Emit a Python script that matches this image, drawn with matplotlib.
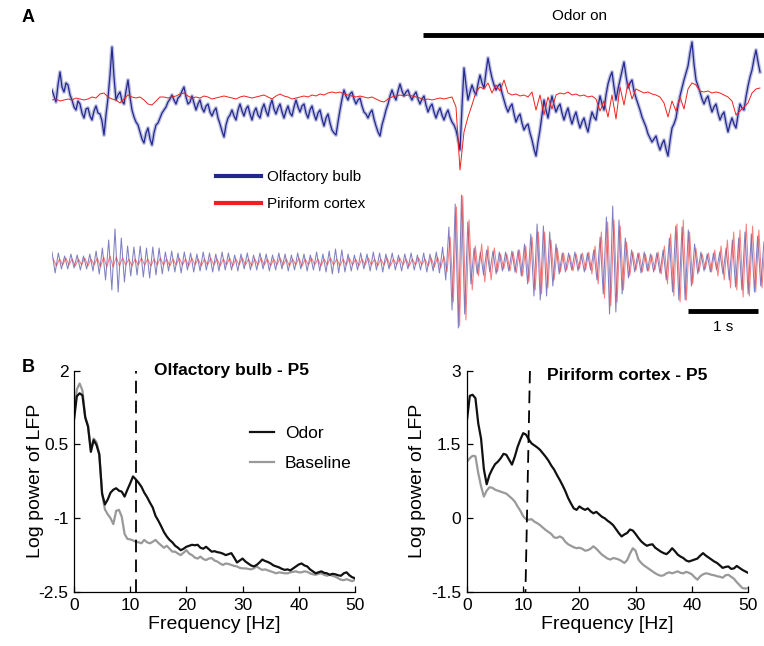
import numpy as np
import matplotlib
matplotlib.use('Agg')
import matplotlib.pyplot as plt
from matplotlib.lines import Line2D

plt.rcParams['font.family'] = ['Liberation Sans', 'DejaVu Sans']

# ---------------- Panel A data (arbitrary units, up = positive) ----------------
raw_dt = 4 / 70.0          # s between raw samples
filt_dt = 3.15 / 70.0      # s between filtered extrema (half cycles)
odor_on = 5.3              # s
trace_end = 712 / 70.0     # s

# olfactory bulb raw LFP: samples at t = k*raw_dt ...
bulb_raw_a = [7, -5, 25, 5, 12, -3, -13, -7, -21, -11, -23, -9, -17, -38, -1, 50, -3, 5, -7, 17,
              -13, -25, -35, -46, -31, -48, -28, -21, -13, -5, 2, -7, 1, 10, -7, 1, -13, -3, -15, -7,
              -19, -11, -27, -40, -21, -13, -23, -7, -19, -9, -23, -11, -21, -7, -19, -3, -17, -7, -21, -9,
              -19, -3, -15, -7, -21, -9, -23, -13, -29, -17, -33, -38, -13, 7, -3, 5, -7, -1, -15, -21,
              -13, -29, -39, -21, -7, 7, -3, 13, 1, 7, -3, 5, -7, 1, -15, -7, -21, -11, -23, -13,
              -25, -33, -53, 29, -3, 12, 2, 22, 9, 39, 19, 7, 13, -3, -15, -7, -25, -17, -33, -27,
              -43, -59, -33, -3, -21, 1, -15, -7, -23, -11, -27, -15, -31, -21, -35, -15, -23, 1, -13, 13,
              25, -3, 17, 35, 9, 17, -1, -13, -25, -37, -45, -39, -53, -43, -59, -31, -21, 1, 17, 31,
              55, 17, 5, -7, 1, -15, -7, -23, -15, -35, -21, -31, -7, -13, 11, 27, 47, 25]
# ... and at t = (k + 0.5)*raw_dt
bulb_raw_b = [1, 12, 10, 14, 2, -10, -4, -16, -12, -19, -14, -16, -24, -18, 22, 20, 2, -4, 6, 0,
              -20, -28, -42, -36, -42, -36, -26, -16, -10, -2, -3, -1, 6, 0, -5, -6, -7, -11, -9, -15,
              -14, -21, -34, -28, -18, -19, -13, -14, -12, -17, -15, -18, -12, -14, -9, -12, -11, -15, -14, -16,
              -10, -10, -9, -16, -13, -17, -16, -22, -21, -26, -36, -25, -2, 1, 3, -2, -3, -9, -17, -16,
              -22, -35, -28, -13, 1, 1, 6, 6, 5, 1, 2, -2, -2, -8, -10, -15, -15, -18, -17, -20,
              -28, -42, -10, 12, 5, 6, 13, 14, 25, 28, 12, 11, 4, -10, -10, -17, -20, -26, -29, -36,
              -52, -45, -18, -13, -9, -8, -10, -16, -16, -20, -20, -24, -25, -29, -24, -20, -10, -7, 2, 20,
              10, 8, 26, 21, 14, 6, -7, -20, -30, -41, -42, -47, -47, -52, -44, -27, -9, 9, 24, 44,
              33, 11, -2, -2, -8, -10, -16, -18, -26, -27, -27, -18, -11, 0, 20, 38, 35]

piri_raw = [-3, -2, -4, -3, -2, -3, -1, -2, -3, -2, 0, -1, 3, 4, 0, -2, -3, -6, -2, 2,
            0, -1, 0, -3, -7, -8, -4, 0, 0, -1, 0, 1, 3, 4, 1, -1, 0, -1, 1, 0,
            -2, -1, 0, 1, 0, -1, -2, 0, 1, 0, -1, 0, 1, 2, 0, -2, 1, 3, 1, 0,
            -2, -1, 0, 1, 0, 2, 1, 3, 2, 4, 5, 4, 5, 3, 2, 1, 0, 1, 0, -1,
            0, -2, -4, -5, -2, 0, 1, 2, 1, 2, 1, 0, -1, -3, -2, -3, -2, -1, -2, -1,
            0, -10, -73, -35, -20, -8, 5, 10, 8, 14, 4, 12, 6, 17, 4, 2, 3, 1, 2, 0,
            5, -13, 2, -18, 0, -12, 2, 4, 3, 5, 2, 3, 1, 2, 0, 1, -2, -14, -4, -20,
            2, -22, 10, -8, 14, -2, 8, 6, 4, 5, 3, 2, 0, -6, -20, -4, -14, 0, -12, 8,
            14, 12, 6, 5, 6, 4, 5, 4, 2, 0, -4, -18, -14, -10, -6, 4, 8, 9]

bulb_filt = [10, -11, 9, -7, 6, -7, 8, -6, 7, -8, 6, -7, 8, -9,
             11, -12, 14, -18, 22, -28, 33, -30, 24, -20,
             16, -14, 15, -13, 16, -15, 14, -16, 15, -13, 14, -12,
             10, -9, 11, -10, 9, -11, 10, -8, 9, -10, 8, -9, 10, -8, 9, -10, 8, -9, 10, -8, 9,
             -8, 7, -9, 8, -7, 9, -8, 7, -8, 9, -7, 8, -9, 7, -8, 9, -7, 8, -9,
             7, -8, 9, -7, 8, -9, 7, -8, 10, -9, 8, -10, 11,
             -12, 13, -11, 12, -10,
             8, -9, 7, -8, 9, -7, 8, -9, 10, -8, 9, -10, 8, -7, 9, -8, 7, -9, 8, -7, 9, -8, 7,
             -8, 9, -10, 8, -9, 10, -11,
             15, -18, 35, -48, 58, -66, 67, -52, 40, -22,
             14, -12, 10, -13, 12, -10, 11, -12, 10, -9,
             10, -9, 11, -10, 12, -14, 18, -22, 28, -34, 38, -38, 36, -34, 30, -24, 18, -12,
             9, -10, 9, -8, 10, -9, 8, -10, 9, -8, 12,
             -18, 25, -32, 45, -52, 56, -50, 42, -32, 24, -16,
             12, -10, 9, -11, 10, -9, 8, -10, 9, -11, 12,
             -18, 24, -30, 36, -38, 35, -38, 32, -24, 18, -12,
             10, -9, 8, -10, 9, -8, 10, -12, 14,
             -18, 22, -25, 24, -28,
             30, -32, 28, -30, 26, -24, 20]

piri_filt = [3, -4, 3, -3, 4, -3, 3, -4, 3, -3, 4, -4, 3, -3, 4, -5, 5, -5, 6, -5, 5, -4, 4, -3,
             3, -4, 3, -3, 4, -3, 3, -4, 3, -3, 4, -3,
             3, -4, 3, -3, 4, -3, 3, -4, 4, -3, 3, -4, 3, -3, 4, -3, 3, -4, 3, -3, 4, -4, 3, -3,
             4, -3, 3, -4, 3, -3,
             4, -3, 3, -4, 3, -3, 4, -3, 3, -4, 3, -3, 4, -4, 3, -3, 4, -3, 3, -4, 3, -3, 4, -3,
             3, -4, 3, -3, 4, -3,
             3, -4, 3, -3, 4, -3, 3, -4, 3, -3, 4, -4, 3, -3, 4, -3, 3, -4, 3, -3, 4, -3, 3, -4,
             4, -5, 5, -6,
             6, -10, 25, -40, 55, -64, 66, -58, 42, -28,
             16, -14, 18, -20, 16, -18, 14, -10, 8, -7,
             8, -9, 10, -11, 12, -14, 16, -20, 25, -28, 30, -32, 30, -26, 22, -18, 14, -10,
             9, -8, 7, -9, 8, -7, 9, -8, 10, -12, 16,
             -22, 30, -36, 40, -44, 42, -40, 36, -28, 20, -14,
             10, -8, 9, -10, 8, -9, 7, -8, 10, -12, 16,
             -22, 28, -34, 38, -40, 42, -38, 30, -22, 14, -10,
             8, -7, 9, -10, 12, -14, 16, -18, 22,
             -26, 30, -28, 32, -35,
             38, -34, 36, -30, 32, -26, 22]

# ---------------- Panel B data (log power) ----------------
freq = np.arange(0, 50.01, 0.5)

ob_odor = [1.0, 1.48, 1.54, 1.50, 1.05, 0.86, 0.35, 0.59, 0.49, 0.30,
           -0.5, -0.72, -0.62, -0.48, -0.42, -0.39, -0.44, -0.46, -0.56, -0.42,
           -0.29, -0.15, -0.21, -0.28, -0.36, -0.48, -0.57, -0.68, -0.78, -0.95,
           -1.05, -1.16, -1.28, -1.37, -1.44, -1.49, -1.56, -1.60, -1.65, -1.62,
           -1.58, -1.56, -1.54, -1.55, -1.54, -1.60, -1.62, -1.58, -1.63, -1.68,
           -1.67, -1.69, -1.70, -1.72, -1.75, -1.73, -1.71, -1.80, -1.90, -1.86,
           -1.82, -1.88, -1.92, -1.96, -1.98, -1.95, -1.90, -1.84, -1.87, -1.89,
           -1.92, -1.96, -1.98, -2.0, -2.03, -2.05, -2.04, -2.06, -2.02, -1.98,
           -1.94, -1.92, -1.96, -1.98, -2.04, -2.08, -2.12, -2.10, -2.08, -2.11,
           -2.12, -2.15, -2.13, -2.14, -2.16, -2.17, -2.12, -2.10, -2.16, -2.20, -2.22]

ob_base = [1.07, 1.62, 1.74, 1.60, 1.05, 0.89, 0.40, 0.62, 0.55, 0.30,
           -0.5, -0.82, -0.92, -1.0, -1.12, -0.85, -0.83, -0.97, -1.32, -1.42,
           -1.43, -1.45, -1.48, -1.49, -1.51, -1.44, -1.49, -1.51, -1.48, -1.44,
           -1.50, -1.55, -1.60, -1.56, -1.62, -1.68, -1.68, -1.72, -1.75, -1.70,
           -1.65, -1.72, -1.75, -1.80, -1.82, -1.78, -1.83, -1.85, -1.82, -1.81,
           -1.86, -1.88, -1.92, -1.95, -1.92, -1.93, -1.95, -1.97, -1.98, -2.01,
           -2.02, -2.02, -2.03, -2.04, -2.02, -1.98, -2.02, -2.05, -2.04, -2.06,
           -2.08, -2.10, -2.12, -2.10, -2.11, -2.12, -2.12, -2.10, -2.09, -2.08,
           -2.10, -2.10, -2.08, -2.09, -2.12, -2.14, -2.15, -2.13, -2.12, -2.15,
           -2.17, -2.15, -2.17, -2.19, -2.22, -2.25, -2.26, -2.24, -2.26, -2.28, -2.25]

pc_odor = [2.0, 2.49, 2.51, 2.44, 1.93, 1.62, 1.0, 0.69, 0.88, 1.0,
           1.10, 1.15, 1.22, 1.31, 1.29, 1.19, 1.09, 1.25, 1.45, 1.60,
           1.73, 1.70, 1.60, 1.52, 1.48, 1.44, 1.39, 1.32, 1.25, 1.17,
           1.07, 0.99, 0.88, 0.78, 0.67, 0.55, 0.41, 0.30, 0.20, 0.17,
           0.24, 0.20, 0.17, 0.20, 0.14, 0.10, 0.13, 0.08, 0.03, 0.0,
           -0.05, -0.09, -0.14, -0.22, -0.30, -0.37, -0.33, -0.30, -0.23, -0.25,
           -0.32, -0.40, -0.47, -0.52, -0.56, -0.54, -0.53, -0.60, -0.64, -0.68,
           -0.71, -0.73, -0.68, -0.61, -0.67, -0.74, -0.78, -0.81, -0.86, -0.88,
           -0.86, -0.84, -0.82, -0.76, -0.71, -0.76, -0.80, -0.84, -0.88, -0.91,
           -0.96, -1.01, -0.99, -0.98, -1.03, -1.02, -0.97, -1.01, -1.05, -1.08, -1.11]

pc_base = [1.15, 1.22, 1.27, 1.26, 0.92, 0.65, 0.44, 0.56, 0.63, 0.62,
           0.58, 0.56, 0.54, 0.52, 0.50, 0.45, 0.40, 0.34, 0.24, 0.15,
           0.04, -0.02, -0.03, -0.02, -0.07, -0.10, -0.14, -0.19, -0.24, -0.28,
           -0.32, -0.39, -0.40, -0.37, -0.40, -0.48, -0.53, -0.56, -0.59, -0.61,
           -0.60, -0.62, -0.66, -0.65, -0.62, -0.57, -0.62, -0.68, -0.74, -0.78,
           -0.82, -0.84, -0.81, -0.82, -0.84, -0.87, -0.91, -0.85, -0.72, -0.61,
           -0.66, -0.84, -0.91, -0.96, -1.0, -1.04, -1.08, -1.12, -1.15, -1.17,
           -1.16, -1.12, -1.10, -1.12, -1.10, -1.08, -1.11, -1.12, -1.09, -1.11,
           -1.14, -1.20, -1.25, -1.18, -1.14, -1.12, -1.13, -1.15, -1.16, -1.18,
           -1.19, -1.21, -1.16, -1.15, -1.19, -1.23, -1.30, -1.36, -1.42, -1.43, -1.42]

theta_peak_ob = 11.0
theta_peak_pc = (11.2, 10.4)

# ---------------- Figure ----------------
W, H = 764, 646
fig = plt.figure(figsize=(W / 100, H / 100), dpi=100)

blue = '#23288e'
blue_halo = '#8a8dc6'
red = '#f0201c'
blue_f = '#4a4aa8'
red_f = '#f03a3a'

axA = fig.add_axes([52 / W, 1 - 345 / H, 712 / W, 345 / H])
axA.set_xlim(0, trace_end)
axA.set_ylim(-345, 0)
axA.axis('off')

raw_base = -97
filt_base = -262

ta = np.arange(len(bulb_raw_a)) * raw_dt
tb = (np.arange(len(bulb_raw_b)) + 0.5) * raw_dt
t_bulb = np.concatenate([ta, tb])
v_bulb = np.concatenate([bulb_raw_a, bulb_raw_b]).astype(float)
order = np.argsort(t_bulb)
t_bulb, v_bulb = t_bulb[order], v_bulb[order]

t_piri = np.arange(len(piri_raw)) * raw_dt
t_bf = np.arange(len(bulb_filt)) * filt_dt
t_pf = np.arange(len(piri_filt)) * filt_dt + 0.4 * filt_dt

axA.plot(t_bulb, raw_base + v_bulb, color=blue_halo, lw=2.8, alpha=0.55,
         solid_joinstyle='round')
axA.plot(t_bulb, raw_base + v_bulb, color=blue, lw=0.9)
axA.plot(t_piri, raw_base + np.array(piri_raw), color=red, lw=0.7)
axA.plot(t_bf, filt_base + np.array(bulb_filt), color=blue_f, lw=0.75, alpha=0.7)
axA.plot(t_pf, filt_base + np.array(piri_filt), color=red_f, lw=0.75, alpha=0.65)

# odor bar
axA.plot([odor_on, trace_end], [-35, -35], color='k', lw=3.5, solid_capstyle='butt', clip_on=False)
axA.text((580 - 52) / 70.0, -16, 'Odor on', ha='center', va='center', fontsize=11)

# scale bar 1 s
sb_start = (688 - 52) / 70.0
axA.plot([sb_start, sb_start + 1.0], [-311, -311], color='k', lw=3.5, solid_capstyle='butt')
axA.text(sb_start + 0.5, -327, '1 s', ha='center', va='center', fontsize=11)

fig.legend(handles=[Line2D([], [], color=blue, lw=3), Line2D([], [], color=red, lw=3)],
           labels=['Olfactory bulb', 'Piriform cortex'], loc='upper left',
           bbox_to_anchor=(216 / W, 1 - 170 / H), frameon=False, fontsize=11,
           handlelength=2.95, handletextpad=0.4, labelspacing=0.85,
           borderpad=0, borderaxespad=0)

fig.text(28 / W, 1 - 18 / H, 'A', fontsize=13, fontweight='bold', ha='center', va='center')
fig.text(28 / W, 1 - 367 / H, 'B', fontsize=13, fontweight='bold', ha='center', va='center')

# ---------------- Panel B ----------------
axL = fig.add_axes([74 / W, 1 - 592 / H, 281 / W, 221.3 / H])
axR = fig.add_axes([467 / W, 1 - 592 / H, 281 / W, 221.3 / H])

for ax, odor, base, ylim, yt, ytl, title, tpos, ylx in [
        (axL, ob_odor, ob_base, (-2.5, 2), [-2.5, -1, 0.5, 2], ['-2.5', '-1', '0.5', '2'],
         'Olfactory bulb - P5', (0.559, 1.0), -0.105),
        (axR, pc_odor, pc_base, (-1.5, 3), [-1.5, 0, 1.5, 3], ['-1.5', '0', '1.5', '3'],
         'Piriform cortex - P5', (0.569, 0.98), -0.145)]:
    lb, = ax.plot(freq, base, color='#999999', lw=1.6)
    lo, = ax.plot(freq, odor, color='#111111', lw=1.6)
    ax.set_xlim(0, 50)
    ax.set_ylim(*ylim)
    ax.set_xticks([0, 10, 20, 30, 40, 50])
    ax.set_yticks(yt)
    ax.set_yticklabels(ytl)
    for s in ['top', 'right']:
        ax.spines[s].set_visible(False)
    for s in ['left', 'bottom']:
        ax.spines[s].set_linewidth(0.9)
    ax.tick_params(direction='in', length=4, width=0.9, labelsize=12.5, pad=4)
    ax.set_xlabel('Frequency [Hz]', fontsize=14)
    ax.set_ylabel('Log power of LFP', fontsize=14)
    ax.xaxis.set_label_coords(0.5, -0.11)
    ax.yaxis.set_label_coords(ylx, 0.5)
    ax.text(tpos[0], tpos[1], title, transform=ax.transAxes, ha='center', va='center',
            fontsize=12.5, fontweight='bold')
    if ax is axL:
        ax.legend([lo, lb], ['Odor', 'Baseline'], loc='upper left',
                  bbox_to_anchor=(0.626, 0.75), frameon=False, fontsize=12.5,
                  handlelength=1.4, handletextpad=0.6, labelspacing=0.85,
                  borderpad=0, borderaxespad=0)

axL.plot([theta_peak_ob, theta_peak_ob], [-2.5, 2], color='k', lw=1.3, dashes=(7, 4))
axR.plot(list(theta_peak_pc), [3, -1.5], color='k', lw=1.3, dashes=(7, 4))

fig.savefig('out.png', dpi=100)
